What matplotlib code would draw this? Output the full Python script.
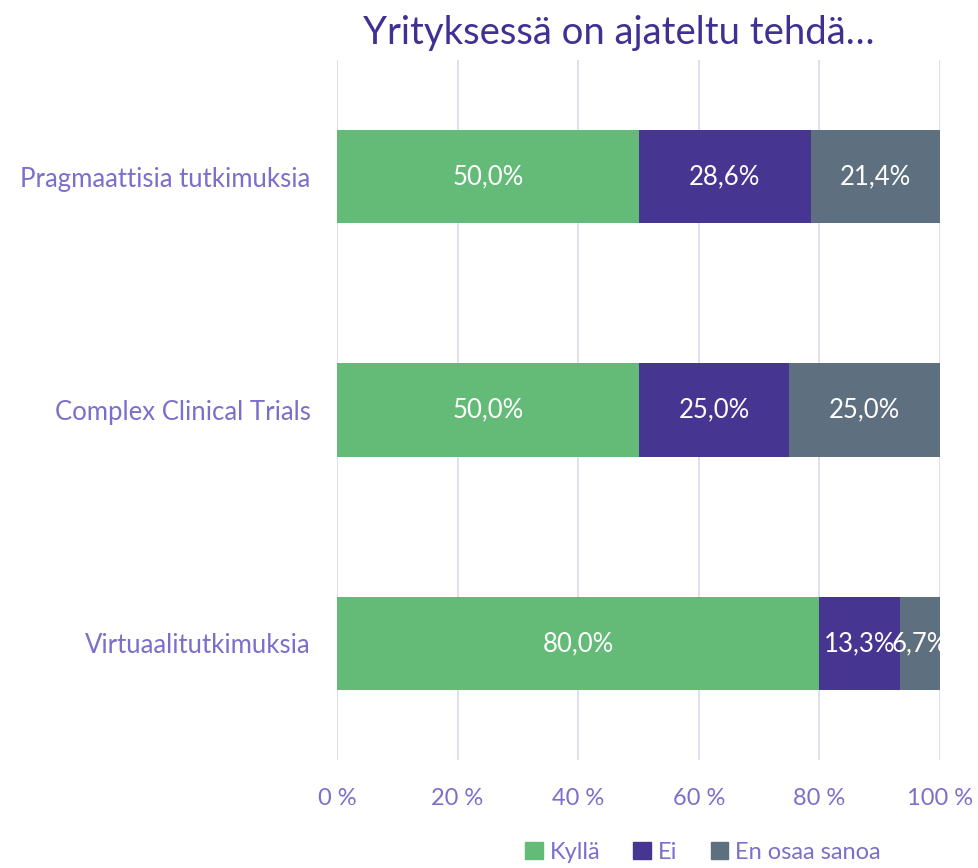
import matplotlib.pyplot as plt
from matplotlib.patches import Patch

categories = ['Virtuaalitutkimuksia', 'Complex Clinical Trials', 'Pragmaattisia tutkimuksia']
kylla = [80.0, 50.0, 50.0]
ei = [13.3, 25.0, 28.6]
en_osaa = [6.7, 25.0, 21.4]
series_names = ['Kyllä', 'Ei', 'En osaa sanoa']
ticks = [0, 20, 40, 60, 80, 100]

colors = ['#63BB77', '#473592', '#5E6F7F']
label_col = '#7B6FCC'
title_col = '#3F3092'
grid_col = '#DCD8F0'

plt.rcParams['font.family'] = ['Lato', 'DejaVu Sans']

fig = plt.figure(figsize=(9.79, 8.68), dpi=100)
ax = fig.add_axes([0.3442, 0.1244, 0.6160, 0.8065])

y = range(len(categories))
left = [0.0] * len(categories)
for vals, name, col in zip([kylla, ei, en_osaa], series_names, colors):
    bars = ax.barh(y, vals, left=left, height=0.4, color=col, label=name, zorder=2)
    for b, v in zip(bars, vals):
        ax.text(b.get_x() + b.get_width() / 2, b.get_y() + b.get_height() / 2,
                f'{v:.1f}%'.replace('.', ','), ha='center', va='center',
                color='white', fontsize=18.5, zorder=3)
    left = [l + v for l, v in zip(left, vals)]

ax.set_xlim(0, 100)
ax.set_ylim(-0.5, 2.5)
ax.set_xticks(ticks)
ax.set_xticklabels([f'{t} %' for t in ticks])
ax.set_yticks(list(y))
ax.set_yticklabels(categories)
ax.tick_params(axis='both', length=0, colors=label_col)
ax.tick_params(axis='x', pad=20, labelsize=17)
ax.tick_params(axis='y', pad=19, labelsize=18.5)
ax.grid(axis='x', color=grid_col, linewidth=1.2, zorder=0)
for s in ax.spines.values():
    s.set_visible(False)

fig.text(0.632, 0.962, 'Yrityksessä on ajateltu tehdä…', ha='center', va='center',
         fontsize=27.5, color=title_col)

handles = [Patch(color=c, label=n) for c, n in zip(colors, series_names)]
leg = fig.legend(handles=handles, loc='center', bbox_to_anchor=(0.718, 0.018), ncol=3,
                 frameon=False, fontsize=17, handlelength=0.75, handleheight=0.75,
                 handletextpad=0.3, columnspacing=1.4, borderpad=0.1)
for t in leg.get_texts():
    t.set_color(label_col)

fig.savefig('out.png', dpi=100)
